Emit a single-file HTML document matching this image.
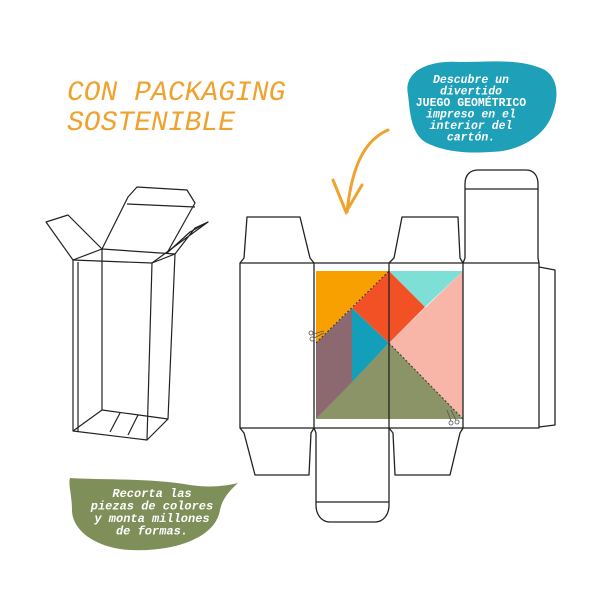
<!DOCTYPE html>
<html><head><meta charset="utf-8"><style>
html,body{margin:0;padding:0;background:#fff;}
svg{display:block}
</style></head><body>
<svg width="600" height="600" viewBox="0 0 600 600" xmlns="http://www.w3.org/2000/svg">
<rect width="600" height="600" fill="#fff"/>
<text x="67" y="100" font-family="Liberation Mono, monospace" font-style="italic" font-size="28" fill="#f0a22e">CON PACKAGING</text>
<text x="67" y="130" font-family="Liberation Mono, monospace" font-style="italic" font-size="28" fill="#f0a22e">SOSTENIBLE</text>

<path d="M408,95 C403,70 430,60 460,62 C490,62 520,58 545,70 C560,80 558,100 552,115 C545,135 520,152 490,152 C460,154 440,150 425,142 C410,132 410,110 408,95 Z" fill="#1ea0b8"/>
<g font-family="Liberation Mono, monospace" font-weight="bold" font-size="11.5" fill="#fff" text-anchor="middle" font-style="italic">
<text x="471" y="83">Descubre un</text>
<text x="471" y="94.5">divertido</text>
<text x="471" y="106" font-style="normal">JUEGO GEOMÉTRICO</text>
<text x="471" y="117.5">impreso en el</text>
<text x="471" y="129">interior del</text>
<text x="471" y="140.5">cartón.</text>
</g>

<g stroke="#f0a22e" stroke-width="3" fill="none" stroke-linecap="round">
<path d="M388,130 C365,140 352,165 347,212"/>
<path d="M333,180 L346,212 L362,185"/>
</g>

<path d="M70,478 C100,480 150,478 190,485 C210,488 225,486 238,483 C228,492 222,500 220,510 C215,540 170,552 130,550 C95,548 72,530 72,510 C72,495 68,485 70,478 Z" fill="#7f8f5a"/>
<g font-family="Liberation Mono, monospace" font-weight="bold" font-style="italic" font-size="12" fill="#fff" text-anchor="middle">
<text x="152" y="497">Recorta las</text>
<text x="152" y="509.5">piezas de colores</text>
<text x="152" y="522">y monta millones</text>
<text x="152" y="534.5">de formas.</text>
</g>

<g stroke="#222" stroke-width="1.2" fill="none" stroke-linejoin="round">
<path d="M73,260 L152,263 L175,254 L102,249 Z"/>
<path d="M73,260 L73,431 L147,440 L152,263"/>
<path d="M78,262 L78,432"/>
<path d="M175,254 L168,419 L147,440"/>
<path d="M102,249 L102,410 L168,419"/>
<path d="M102,410 L73,431"/>
<path d="M110,432 L120,413 M128,435 L138,415"/>
<path d="M73,260 L46,222 L68,215 L102,249"/>
<path d="M102,249 L128,197 L137,187 L187,190 L195,203 L167,253"/>
<path d="M127,204 L195,207"/>
<path d="M152,263 L208,222 L195,228 L175,254"/>
<path d="M167,253 L190,232 L208,222"/>
</g>

<polygon points="316,271 389,271 316,343" fill="#f7a000"/>
<polygon points="389,271 463,271 425,307" fill="#7ddfd6"/>
<polygon points="463,271 463,419 389,343" fill="#f8b6a8"/>
<polygon points="316,419 463,419 389,343" fill="#8a9466"/>
<polygon points="316,343 352,308 352,382 316,419" fill="#8c6870"/>
<polygon points="352,308 389,343 352,382" fill="#139fba"/>
<polygon points="389,271 425,307 389,343 352,308" fill="#f25126"/>
<g stroke="#333" stroke-width="1" stroke-dasharray="2,2" fill="none">
<path d="M316,343 L389,271"/>
<path d="M389,343 L463,419"/>
</g>

<g stroke="#222" stroke-width="1.3" fill="none" stroke-linejoin="round">
<rect x="240" y="263" width="299" height="165"/>
<path d="M314,263 V428 M389,263 V428 M463,263 V428"/>
<path d="M539,267 L555,270 L555,425 L539,427"/>
<path d="M240,263 L244,258 L247,217 L300,217 L310,258 L314,263"/>
<path d="M389,263 L394,258 L402,217 L458,217 L460,258 L463,263"/>
<path d="M463,263 L465,258 L465,184 C465,175 470,170 478,170 L526,170 C534,170 538,176 538,184 L538,258 L539,263"/>
<path d="M465,189 L538,189"/>
<path d="M240,428 L244,433 L255,475 L309,475 L311,433 L314,428"/>
<path d="M389,428 L393,433 L395,475 L450,475 L460,433 L463,428"/>
<path d="M314,428 L316,433 L316,505 C316,514 321,522 330,522 L375,522 C383,522 389,515 389,505 L389,433 L389,428"/>
<path d="M316,502 L389,502"/>
</g>
<g stroke="#555" stroke-width="0.8" fill="none">
<circle cx="311" cy="333" r="2"/><circle cx="312" cy="339" r="2"/>
<path d="M313,334 L324,331 M314,338 L324,333"/>
<circle cx="451" cy="423" r="2"/><circle cx="457" cy="422" r="2"/>
<path d="M451,421 L447,410 M456,420 L451,410"/>
</g>
</svg>
</body></html>
